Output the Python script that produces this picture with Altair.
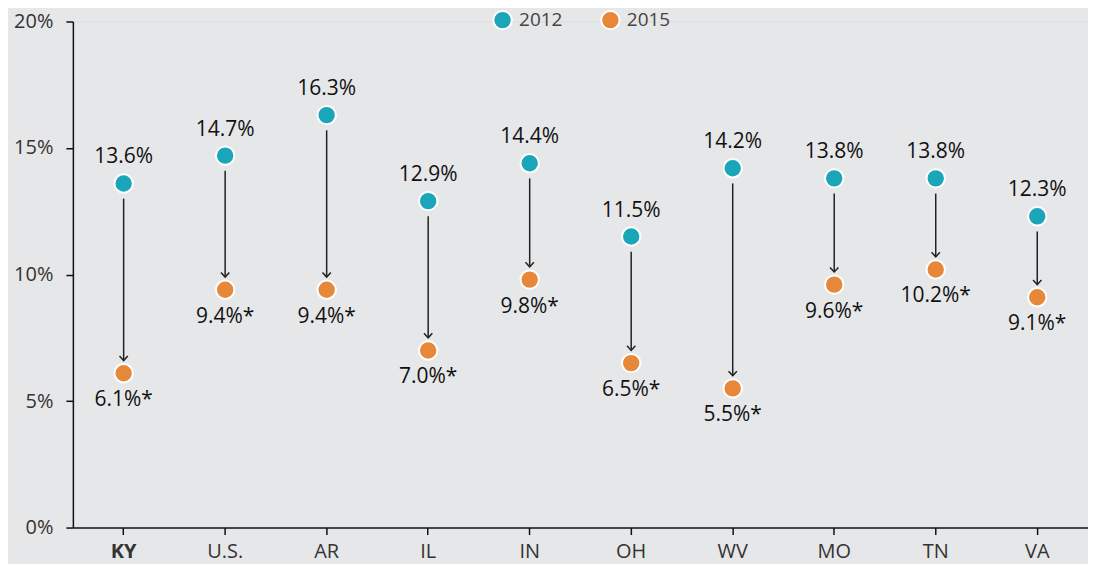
import altair as alt
import pandas as pd

states = ["KY", "U.S.", "AR", "IL", "IN", "OH", "WV", "MO", "TN", "VA"]
v2012 = [13.6, 14.7, 16.3, 12.9, 14.4, 11.5, 14.2, 13.8, 13.8, 12.3]
v2015 = [6.1, 9.4, 9.4, 7.0, 9.8, 6.5, 5.5, 9.6, 10.2, 9.1]
years = ["2012", "2015"]
colors = ["#1ba5b9", "#e6873a"]

wide = pd.DataFrame({"state": states, "a": v2012, "b": v2015})
long = pd.DataFrame({
    "state": states + states,
    "year": ["2012"] * len(states) + ["2015"] * len(states),
    "value": v2012 + v2015,
})
long["label"] = [f"{v:.1f}%" for v in v2012] + [f"{v:.1f}%*" for v in v2015]

FONT = "Open Sans"
x = alt.X("state:N", sort=states, title=None,
          axis=alt.Axis(labelAngle=0, labelFontSize=20, labelColor="#333333",
                        labelFontWeight=alt.ExprRef("datum.value == 'KY' ? 'bold' : 'normal'"),
                        tickSize=7, tickColor="#111111", domainColor="#111111",
                        domainWidth=1.5, tickWidth=1.5, labelPadding=7))
yscale = alt.Scale(domain=[0, 20], nice=False)

base = alt.Chart(wide)

arrows = base.transform_calculate(
    y1="datum.a - 0.6", y2="datum.b + 0.5"
).mark_rule(color="#222222", strokeWidth=1.5).encode(
    x=x,
    y=alt.Y("y1:Q", scale=yscale, title=None,
            axis=alt.Axis(values=[0, 5, 10, 15, 20], labelExpr="datum.value + '%'",
                          grid=False, labelFontSize=20, labelColor="#333333",
                          tickSize=7, tickColor="#111111", domainColor="#111111",
                          domainWidth=1.5, tickWidth=1.5, labelPadding=13)),
    y2="y2:Q",
)

heads = base.transform_calculate(
    y2="datum.b + 0.5"
).mark_point(shape="M-1,-1.1L0,0L1,-1.1", filled=False, color="#222222",
             strokeWidth=1.5, size=70, opacity=1).encode(
    x=x, y=alt.Y("y2:Q", scale=yscale),
)

pts = alt.Chart(long).mark_circle(size=340, stroke="white", strokeWidth=2, opacity=1).encode(
    x=x,
    y=alt.Y("value:Q", scale=yscale),
    color=alt.Color("year:N", scale=alt.Scale(domain=years, range=colors), title=None,
                    legend=alt.Legend(orient="none", direction="horizontal",
                                      legendX=420, legendY=-12, symbolSize=340,
                                      symbolType="circle", symbolStrokeColor="white",
                                      symbolStrokeWidth=2, symbolOpacity=1,
                                      labelFontSize=19, labelColor="#444444",
                                      labelOffset=6, columnPadding=34, padding=0)),
)

lab12 = alt.Chart(long).transform_filter("datum.year == '2012'").mark_text(
    dy=-26, fontSize=21, color="#111111", font=FONT).encode(
    x=x, y=alt.Y("value:Q", scale=yscale), text="label:N")
lab15 = alt.Chart(long).transform_filter("datum.year == '2015'").mark_text(
    dy=27, fontSize=21, color="#111111", font=FONT).encode(
    x=x, y=alt.Y("value:Q", scale=yscale), text="label:N")

chart = alt.layer(arrows, heads, pts, lab12, lab15).properties(
    width=1017, height=507,
    autosize=alt.AutoSizeParams(type="none"),
    padding={"left": 65, "top": 13, "right": 0, "bottom": 36},
    background="#e6e7e8",
).configure_view(stroke=None).configure(font=FONT)

chart.save("out.html", embed_options={"renderer": "svg", "actions": False})
